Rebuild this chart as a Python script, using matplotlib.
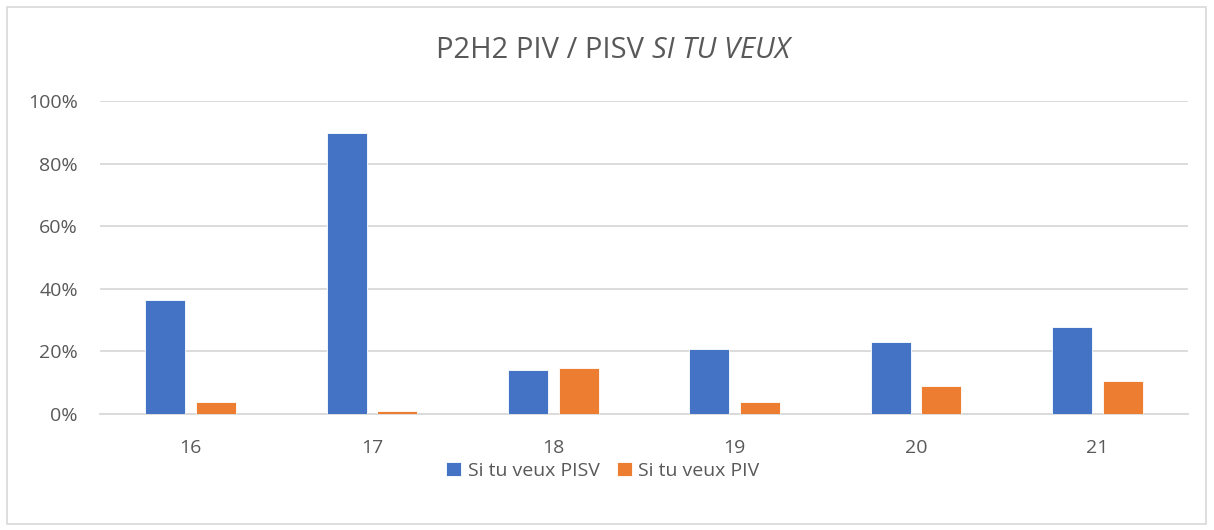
import numpy as np
import matplotlib
matplotlib.use('Agg')
import matplotlib.pyplot as plt
from matplotlib.patches import Rectangle

# Chart data
categories = ['16', '17', '18', '19', '20', '21']
pisv = [36.4, 89.7, 14.2, 20.7, 22.9, 27.9]
piv = [3.8, 0.9, 14.8, 3.8, 9.1, 10.4]
series_names = ['Si tu veux PISV', 'Si tu veux PIV']
y_ticks = [0, 20, 40, 60, 80, 100]

blue = '#4472C4'
orange = '#ED7D31'
text_color = '#595959'
grid_color = '#D9D9D9'

plt.rcParams['font.family'] = ['Open Sans', 'DejaVu Sans']

fig = plt.figure(figsize=(12.14, 5.30), dpi=100)
ax = fig.add_axes([100 / 1214, 116 / 530, 1088 / 1214, 313 / 530])

x = np.arange(len(categories))
width = 0.22
offset = 0.28 / 2
ax.bar(x - offset, pisv, width, color=blue, edgecolor='white', linewidth=0.6, label=series_names[0], zorder=3)
ax.bar(x + offset, piv, width, color=orange, edgecolor='white', linewidth=0.6, label=series_names[1], zorder=3)

ax.set_xlim(-0.5, len(categories) - 0.5)
ax.set_ylim(0, 100)
ax.set_yticks(y_ticks)
ax.set_yticklabels([f'{t}%' for t in y_ticks])
ax.set_xticks(x)
ax.set_xticklabels(categories)
ax.tick_params(axis='both', length=0, labelsize=14, colors=text_color)
ax.tick_params(axis='y', pad=16)
ax.tick_params(axis='x', pad=18)
ax.yaxis.grid(True, color=grid_color, linewidth=1.3, zorder=0)
ax.set_axisbelow(True)
for side in ['top', 'right', 'left']:
    ax.spines[side].set_visible(False)
ax.spines['bottom'].set_color(grid_color)
ax.spines['bottom'].set_linewidth(1.3)

# Title with italic tail
fig.canvas.draw()
renderer = fig.canvas.get_renderer()
t1 = fig.text(0, 480 / 530, 'P2H2 PIV / PISV ', fontsize=21, color=text_color, va='center')
t2 = fig.text(0, 480 / 530, 'SI TU VEUX', fontsize=21, color=text_color, va='center', style='italic')
w1 = t1.get_window_extent(renderer).width
w2 = t2.get_window_extent(renderer).width
start = 613 - (w1 + w2) / 2
t1.set_x(start / 1214)
t2.set_x((start + w1) / 1214)

leg = fig.legend(loc='center', bbox_to_anchor=(603 / 1214, 59 / 530), ncol=2, frameon=False,
                 fontsize=14, handlelength=0.75, handleheight=0.75, handletextpad=0.35,
                 columnspacing=0.9)
for txt in leg.get_texts():
    txt.set_color(text_color)

# chart frame
fig.patches.append(Rectangle((7 / 1214, 6 / 530), 1199 / 1214, 517 / 530, transform=fig.transFigure,
                             fill=False, edgecolor=grid_color, linewidth=1.2))

fig.savefig('out.png', dpi=100)
